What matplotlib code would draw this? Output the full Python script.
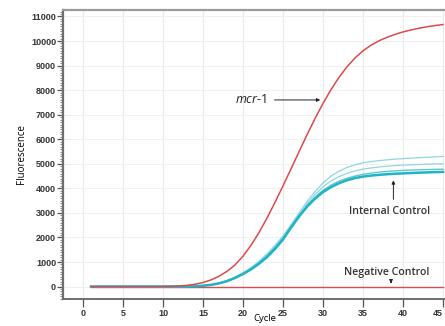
import matplotlib
matplotlib.use("Agg")
import matplotlib.pyplot as plt
from matplotlib.ticker import MultipleLocator

plt.rcParams['mathtext.fontset'] = 'custom'
plt.rcParams['mathtext.it'] = 'Open Sans:italic'
plt.rcParams['mathtext.rm'] = 'Open Sans'

cycles = list(range(1, 46))

mcr1 = [0, 0, 0, 0, 0, 0, 0, 0, 0, 5,
        12, 25, 50, 95, 165, 270, 420, 620, 880, 1240,
        1680, 2200, 2790, 3430, 4100, 4790, 5490, 6180, 6840, 7460,
        8020, 8520, 8950, 9310, 9600, 9830, 10010, 10150, 10270, 10370,
        10450, 10520, 10580, 10630, 10670]

ic_main = [0, 0, 0, 0, 0, 0, 0, 0, 0, 0,
           0, 2, 5, 15, 35, 70, 130, 220, 350, 510,
           700, 930, 1200, 1530, 1920, 2400, 2850, 3250, 3580, 3850,
           4050, 4210, 4330, 4420, 4480, 4520, 4550, 4575, 4595, 4610,
           4625, 4638, 4650, 4660, 4670]

ic_2 = [0, 0, 0, 0, 0, 0, 0, 0, 0, 0,
        0, 2, 5, 15, 35, 72, 135, 228, 362, 530,
        730, 970, 1250, 1590, 1960, 2420, 2880, 3290, 3640, 3920,
        4130, 4290, 4410, 4500, 4570, 4620, 4660, 4690, 4710, 4730,
        4745, 4755, 4765, 4775, 4780]

ic_3 = [0, 0, 0, 0, 0, 0, 0, 0, 0, 0,
        0, 2, 5, 15, 36, 74, 138, 234, 372, 545,
        750, 1000, 1290, 1630, 2000, 2460, 2930, 3370, 3750, 4060,
        4300, 4480, 4610, 4710, 4780, 4830, 4870, 4900, 4925, 4945,
        4960, 4975, 4985, 4995, 5005]

ic_4 = [0, 0, 0, 0, 0, 0, 0, 0, 0, 0,
        0, 2, 5, 15, 37, 76, 142, 240, 382, 560,
        770, 1030, 1330, 1680, 2060, 2520, 3000, 3460, 3870, 4220,
        4500, 4700, 4850, 4960, 5040, 5090, 5130, 5160, 5190, 5210,
        5230, 5250, 5265, 5280, 5300]

neg_ctrl = [0] * 45

x_ticks = list(range(0, 46, 5))
y_ticks = list(range(0, 11001, 1000))

fig = plt.figure(figsize=(4.45, 3.26), dpi=100)
ax = fig.add_axes([63/445, 27/326, 1 - 63/445, (299 - 10)/326])

ax.set_xlim(-2.5, 45.25)
ax.set_ylim(-506, 11263)

# faint grid
for gx in x_ticks:
    ax.axvline(gx, color='#ebebeb', lw=0.8, zorder=0)
for gy in y_ticks:
    ax.axhline(gy, color='#f0f0f0', lw=0.8, zorder=0)

red = '#dc4b4b'
cyan_light = '#8fd6e2'
cyan = '#1fb3c6'

ax.plot(cycles, neg_ctrl, color=red, lw=1.0, zorder=2)
ax.plot(cycles, ic_4, color=cyan_light, lw=0.9, zorder=3)
ax.plot(cycles, ic_3, color=cyan_light, lw=0.9, zorder=3)
ax.plot(cycles, ic_2, color='#5cc5d4', lw=1.0, zorder=3)
ax.plot(cycles, ic_main, color=cyan, lw=1.8, zorder=4)
ax.plot(cycles, mcr1, color=red, lw=1.1, zorder=5)

# spines
ax.spines['right'].set_visible(False)
ax.spines['top'].set_color('#9a9a9a')
ax.spines['top'].set_linewidth(1.6)
ax.spines['left'].set_color('#6e6e6e')
ax.spines['left'].set_linewidth(1.6)
ax.spines['bottom'].set_color('#6e6e6e')
ax.spines['bottom'].set_linewidth(1.4)

ax.set_xticks(x_ticks)
ax.set_yticks(y_ticks)
ax.yaxis.set_minor_locator(MultipleLocator(100))
ax.tick_params(axis='y', which='major', length=4, width=0.9, color='#555555',
               labelsize=6.5, labelcolor='#333333', pad=1)
ax.tick_params(axis='y', which='minor', length=2, width=0.6, color='#777777')
ax.tick_params(axis='x', which='major', length=6, width=0.9, color='#555555',
               labelsize=6.5, labelcolor='#333333', pad=1)
for lab in ax.get_xticklabels() + ax.get_yticklabels():
    lab.set_fontfamily('Liberation Sans')
    lab.set_fontweight('bold')
ax.get_xticklabels()[-1].set_horizontalalignment('right')

ax.set_ylabel('Fluorescence', fontsize=7, family='Open Sans')
ax.yaxis.set_label_coords(-0.095, 0.5)
ax.set_xlabel('Cycle', fontsize=6.8, family='Open Sans')
ax.xaxis.set_label_coords(0.529, -0.052)

# annotations
arrow_kw = dict(arrowstyle='-|>', color='#222222', lw=0.7, mutation_scale=5)
ax.annotate('', xy=(30.0, 7600), xytext=(23.6, 7600), arrowprops=arrow_kw, zorder=6)
ax.text(23.0, 7600, r'$mcr$-1', fontsize=9, family='Open Sans', ha='right', va='center',
        color='#222222')

ax.annotate('', xy=(38.8, 4440), xytext=(38.8, 3440), arrowprops=arrow_kw, zorder=6)
ax.text(38.3, 3050, 'Internal Control', fontsize=7.6, family='Open Sans', fontweight='semibold',
        ha='center', va='center', color='#333333')

ax.annotate('', xy=(38.5, 20), xytext=(38.5, 300), arrowprops=arrow_kw, zorder=6)
ax.text(38.0, 560, 'Negative Control', fontsize=7.6, family='Open Sans', fontweight='semibold',
        ha='center', va='center', color='#333333')

fig.savefig('out.png', dpi=100)
